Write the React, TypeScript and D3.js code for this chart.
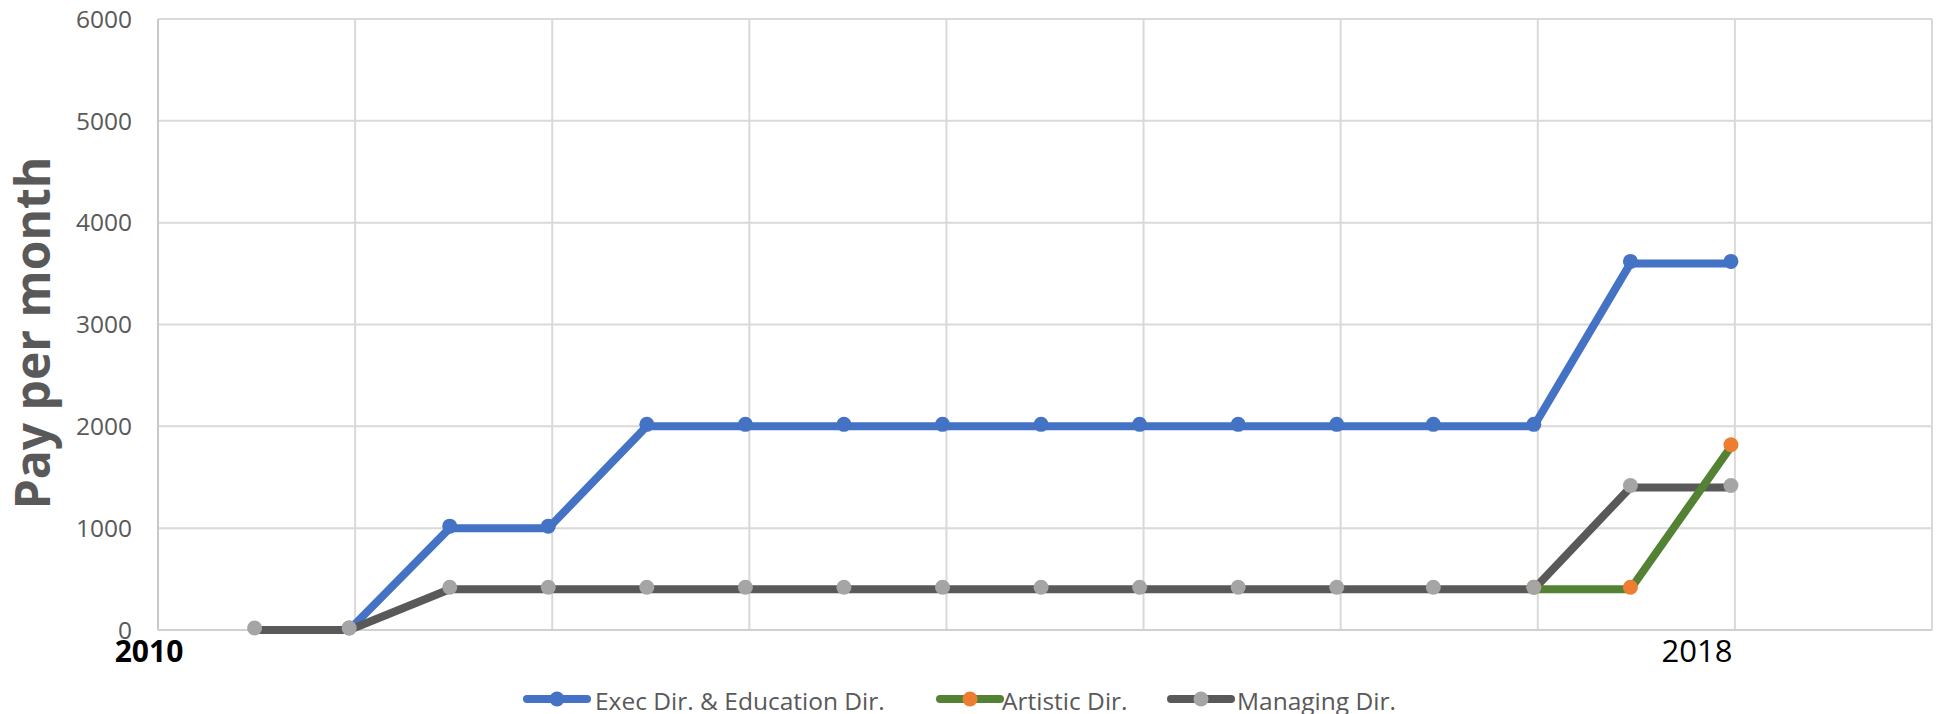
import React from "react";
import * as d3 from "d3";

// ---- data ----
const dates: number[] = [
  2010.49, 2010.97, 2011.48, 2011.98, 2012.48, 2012.98, 2013.48, 2013.98,
  2014.48, 2014.98, 2015.48, 2015.98, 2016.47, 2016.98, 2017.47, 2017.98,
];
const execValues: (number | null)[] = [
  null, 0, 1000, 1000, 2000, 2000, 2000, 2000, 2000, 2000, 2000, 2000, 2000, 2000, 3600, 3600,
];
const artisticValues: (number | null)[] = [
  null, null, null, null, null, null, null, null, null, null, null, null, null, 400, 400, 1800,
];
const managingValues: (number | null)[] = [
  0, 0, 400, 400, 400, 400, 400, 400, 400, 400, 400, 400, 400, 400, 1400, 1400,
];
const yTicks: number[] = [0, 1000, 2000, 3000, 4000, 5000, 6000];
const xGridYears: number[] = [2010, 2011, 2012, 2013, 2014, 2015, 2016, 2017, 2018, 2019];
const seriesNames: string[] = ["Exec Dir. & Education Dir.", "Artistic Dir.", "Managing Dir."];

const W = 1940;
const H = 714;
const FONT = "'Open Sans', 'DejaVu Sans', sans-serif";

type Pt = { x: number; v: number | null };

export default function App() {
  const x = d3.scaleLinear().domain([2010, 2019]).range([158, 1932]);
  const y = d3.scaleLinear().domain([0, 6000]).range([630, 19]);

  const mk = (vals: (number | null)[]): Pt[] => dates.map((d, i) => ({ x: d, v: vals[i] }));
  const series = [
    { name: seriesNames[0], pts: mk(execValues), line: "#4472C4", marker: "#4472C4" },
    { name: seriesNames[1], pts: mk(artisticValues), line: "#548235", marker: "#ED7D31" },
    { name: seriesNames[2], pts: mk(managingValues), line: "#595959", marker: "#A5A5A5" },
  ];

  const lineGen = d3
    .line<Pt>()
    .defined((p) => p.v != null)
    .x((p) => x(p.x))
    .y((p) => y(p.v as number));

  const lineOrder = [0, 2, 1];
  const markerOrder = [0, 1, 2];

  const legendItems = [
    { lx: 523, tx: 595 },
    { lx: 936, tx: 1002 },
    { lx: 1167, tx: 1237 },
  ];

  return (
    <svg
      width={W}
      height={H}
      style={{ position: "absolute", left: 0, top: 0, background: "#fff" }}
      fontFamily={FONT}
    >
      <rect x={0} y={0} width={W} height={H} fill="#fff" />
      {/* gridlines */}
      {yTicks.map((t) => (
        <line key={"hy" + t} x1={x(2010)} x2={x(2019)} y1={y(t)} y2={y(t)} stroke="#D9D9D9" strokeWidth={2} />
      ))}
      {xGridYears.map((t) => (
        <line key={"vx" + t} x1={x(t)} x2={x(t)} y1={y(6000)} y2={y(0)} stroke="#D9D9D9" strokeWidth={2} />
      ))}
      <line x1={x(2010)} x2={x(2010)} y1={y(6000)} y2={y(0)} stroke="#C8C8C8" strokeWidth={2} />
      <line x1={x(2010)} x2={x(2019)} y1={y(0)} y2={y(0)} stroke="#D0D0D0" strokeWidth={2} />

      {/* y tick labels */}
      {yTicks.map((t) => (
        <text key={"yl" + t} x={132} y={y(t)} dy="0.36em" textAnchor="end" fontSize={24.5} fill="#595959">
          {t}
        </text>
      ))}

      {/* x labels */}
      <text x={149} y={662} textAnchor="middle" fontSize={30} fontWeight="bold" fill="#000">
        2010
      </text>
      <text x={1697} y={662} textAnchor="middle" fontSize={31} fill="#000">
        2018
      </text>

      {/* axis title */}
      <text
        transform={`translate(50,333) rotate(-90)`}
        textAnchor="middle"
        fontSize={48}
        fontWeight="bold"
        fill="#595959"
      >
        Pay per month
      </text>

      {/* lines */}
      {lineOrder.map((i) => (
        <path
          key={"l" + i}
          d={lineGen(series[i].pts) || ""}
          fill="none"
          stroke={series[i].line}
          strokeWidth={8}
          strokeLinejoin="round"
          strokeLinecap="round"
        />
      ))}
      {/* markers */}
      {markerOrder.map((i) =>
        series[i].pts
          .filter((p) => p.v != null)
          .map((p, j) => (
            <circle key={"m" + i + "-" + j} cx={x(p.x)} cy={y(p.v as number) - 2} r={7.5} fill={series[i].marker} />
          ))
      )}

      {/* legend */}
      {series.map((s, i) => (
        <g key={"lg" + i}>
          <line
            x1={legendItems[i].lx + 4}
            x2={legendItems[i].lx + 64}
            y1={699}
            y2={699}
            stroke={s.line}
            strokeWidth={8}
            strokeLinecap="round"
          />
          <circle cx={legendItems[i].lx + 34} cy={699} r={7.5} fill={s.marker} />
          <text x={legendItems[i].tx} y={710} fontSize={24.5} fill="#595959">
            {s.name}
          </text>
        </g>
      ))}
    </svg>
  );
}
